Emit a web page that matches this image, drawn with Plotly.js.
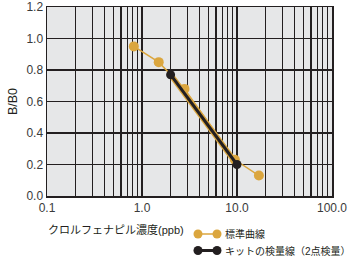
<!DOCTYPE html>
<html><head><meta charset="utf-8">
<script src="https://cdn.plot.ly/plotly-3.0.1.min.js"></script>
<style>body{margin:0;background:#fff}#c{width:353px;height:261px}</style>
</head><body><div id="c"></div>
<script>
// Data
const stdX = [0.82, 1.5, 2.8, 9.5, 17];
const stdY = [0.95, 0.85, 0.68, 0.23, 0.13];
const kitX = [2.0, 10.0];
const kitY = [0.77, 0.20];
const majorTicks = [0.1, 1, 10, 100];
const majorLabels = ['0.1', '1.0', '10.0', '100.0'];
const yTicks = [0, 0.2, 0.4, 0.6, 0.8, 1.0, 1.2];
const yLabels = ['0.0', '0.2', '0.4', '0.6', '0.8', '1.0', '1.2'];
const legendNames = ['標準曲線', 'キットの検量線（2点検量）'];
const xTitle = 'クロルフェナピル濃度(ppb)';
const yTitle = 'B/B0';

const GOLD = '#dba63e';
const INK = '#231f20';
const FONT = 'Liberation Sans, Arial, Noto Sans CJK JP, sans-serif';

// build grid tick values 1..9 per decade
const tv = [], tt = [];
for (let d = -1; d <= 1; d++) {
  for (let m = 1; m <= 9; m++) {
    const v = m * Math.pow(10, d);
    tv.push(v);
    const i = majorTicks.findIndex(t => Math.abs(t - v) < 1e-9);
    tt.push(i >= 0 ? majorLabels[i] : '');
  }
}
tv.push(100); tt.push('100.0');

const traces = [
  {x: stdX, y: stdY, mode: 'lines+markers', line: {color: GOLD, width: 1.5},
   marker: {color: GOLD, size: 10}, showlegend: false, cliponaxis: false},
  {x: kitX, y: kitY, mode: 'lines', line: {color: GOLD, width: 5.5}, showlegend: false, hoverinfo: 'skip'},
  {x: kitX, y: kitY, mode: 'lines+markers', line: {color: INK, width: 3},
   marker: {color: INK, size: 9}, showlegend: false, cliponaxis: false}
];

const px2x = p => (p - 47) / 285;
const px2y = p => (196 - p) / 189;
const shapes = [];
const annotations = [];
const legColors = [GOLD, INK];
const legY = [234, 250.5];
const legW = [1.5, 3];
legendNames.forEach((n, i) => {
  const y = px2y(legY[i]);
  shapes.push({type: 'line', xref: 'paper', yref: 'paper', x0: px2x(198), x1: px2x(217), y0: y, y1: y,
    line: {color: legColors[i], width: legW[i]}});
  [198, 217].forEach(p => {
    shapes.push({type: 'circle', xref: 'paper', yref: 'paper', xsizemode: 'pixel', ysizemode: 'pixel',
      xanchor: px2x(p), yanchor: y, x0: -4.5, x1: 4.5, y0: -4.5, y1: 4.5,
      fillcolor: legColors[i], line: {width: 0}});
  });
  annotations.push({xref: 'paper', yref: 'paper', x: px2x(223), y: y, xanchor: 'left', yanchor: 'middle',
    text: n, showarrow: false, font: {family: FONT, size: 10, color: INK}});
});
annotations.push({xref: 'paper', yref: 'paper', x: px2x(46), y: px2y(229), xanchor: 'left', yanchor: 'middle',
  text: xTitle, showarrow: false, font: {family: FONT, size: 11, color: INK}});

const layout = {
  width: 353, height: 261,
  margin: {l: 47, r: 21, t: 7, b: 65},
  paper_bgcolor: '#ffffff', plot_bgcolor: '#e6e7e8',
  font: {family: FONT, size: 12, color: INK},
  xaxis: {type: 'log', range: [-1, 2], tickmode: 'array', tickvals: tv, ticktext: tt,
    showgrid: true, gridcolor: INK, gridwidth: 1.3, zeroline: false,
    showline: true, linecolor: INK, linewidth: 1.5, mirror: true, ticks: '', ticklen: 0,
    tickfont: {family: FONT, size: 12, color: '#3a3a3a'}, fixedrange: true},
  yaxis: {range: [0, 1.2], tickmode: 'array', tickvals: yTicks, ticktext: yLabels,
    showgrid: true, gridcolor: INK, gridwidth: 1.3, zeroline: false,
    showline: true, linecolor: INK, linewidth: 1.5, mirror: true, ticks: '',
    tickfont: {family: FONT, size: 12, color: '#3a3a3a'},
    title: {text: yTitle, font: {family: FONT, size: 12.5, color: INK}, standoff: 6}},
  shapes: shapes, annotations: annotations, showlegend: false
};
Plotly.newPlot('c', traces, layout, {staticPlot: true, displayModeBar: false});
</script></body></html>
